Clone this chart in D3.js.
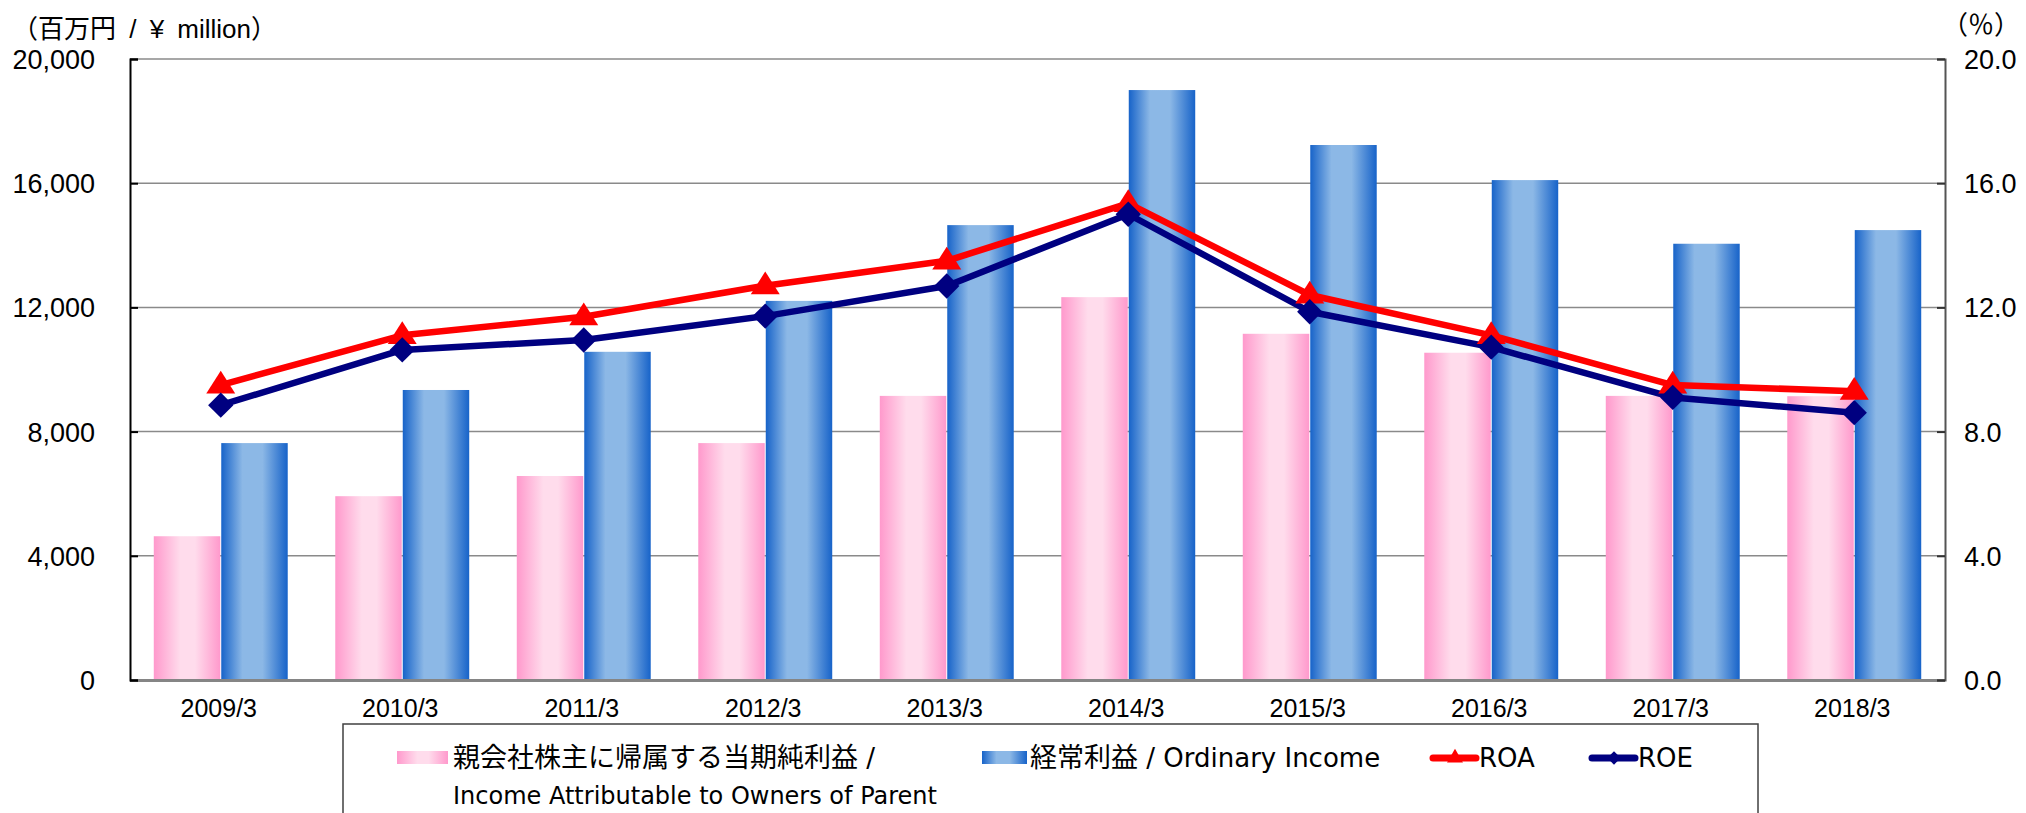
<!DOCTYPE html>
<html>
<head>
<meta charset="utf-8">
<script src="https://cdn.jsdelivr.net/npm/d3@7"></script>
<style>
  body { margin: 0; background: #fff; }
  svg { display: block; }
  .tick-label { font-family: "Liberation Sans", Arial, sans-serif; font-size: 27px; fill: #000; }
  .x-label { font-family: "Liberation Sans", Arial, sans-serif; font-size: 25px; fill: #000; }
  .unit { font-family: "Liberation Sans", "Noto Sans CJK JP", sans-serif; font-size: 26px; fill: #000; word-spacing: 6px; }
  .legend-text { font-family: "DejaVu Sans", "Noto Sans CJK JP", sans-serif; font-size: 24px; fill: #000; }
  .row1 { font-size: 26px; }
  .jp { font-family: "Noto Sans CJK JP", sans-serif; font-size: 27px; }
</style>
</head>
<body>
<svg id="chart" width="2026" height="813"></svg>
<script>
// data
const categories = ["2009/3", "2010/3", "2011/3", "2012/3", "2013/3", "2014/3", "2015/3", "2016/3", "2017/3", "2018/3"];
const netIncome = [4630, 5920, 6570, 7630, 9150, 12330, 11150, 10540, 9150, 9140];
const ordinaryIncome = [7630, 9340, 10570, 12210, 14650, 19000, 17230, 16100, 14050, 14490];
const roa = [9.5, 11.1, 11.7, 12.7, 13.5, 15.35, 12.4, 11.1, 9.5, 9.3];
const roe = [8.85, 10.63, 10.95, 11.72, 12.69, 15.0, 11.86, 10.72, 9.1, 8.61];
const leftTicks = [0, 4000, 8000, 12000, 16000, 20000];
const rightTicks = [0, 4, 8, 12, 16, 20];

let plotLeft = 130, plotRight = 1945, plotTop = 59, plotBottom = 680;

let svg = d3.select("#chart");

let x = d3.scaleBand()
  .domain(categories)
  .range([plotLeft, plotRight])
  .paddingInner(0.262)
  .paddingOuter(0.131);

let xInner = d3.scaleBand()
  .domain(["net", "ord"])
  .range([0, x.bandwidth()])
  .paddingInner(0.015);

let y = d3.scaleLinear().domain([0, 20000]).range([plotBottom, plotTop]);
let yR = d3.scaleLinear().domain([0, 20]).range([plotBottom, plotTop]);

let center = c => x(c) + x.bandwidth() / 2;

// gradients
let defs = svg.append("defs");
function grad(id, stops) {
  let g = defs.append("linearGradient").attr("id", id)
    .attr("x1", "0%").attr("x2", "100%").attr("y1", "0%").attr("y2", "0%");
  stops.forEach(s => g.append("stop").attr("offset", s[0]).attr("stop-color", s[1]));
}
grad("pinkGrad", [["0%", "#ff99cc"], ["40%", "#ffdcec"], ["62%", "#ffdcec"], ["100%", "#ff99cc"]]);
grad("blueGrad", [["0%", "#1763c9"], ["32%", "#8cb8e6"], ["62%", "#8cb8e6"], ["100%", "#1763c9"]]);

// gridlines
svg.append("g")
  .selectAll("line")
  .data(leftTicks.filter(d => d > 0))
  .enter()
  .append("line")
  .attr("x1", plotLeft).attr("x2", plotRight)
  .attr("y1", d => y(d)).attr("y2", d => y(d))
  .attr("stroke", "#8a8a8a")
  .attr("stroke-width", 1.5);

// bars
let barData = [];
categories.forEach((c, i) => {
  barData.push({ cat: c, key: "net", value: netIncome[i] });
  barData.push({ cat: c, key: "ord", value: ordinaryIncome[i] });
});

svg.append("g")
  .selectAll("rect")
  .data(barData)
  .enter()
  .append("rect")
  .attr("x", d => x(d.cat) + xInner(d.key))
  .attr("width", xInner.bandwidth())
  .attr("y", d => y(d.value))
  .attr("height", d => y(0) - y(d.value))
  .attr("fill", d => d.key == "net" ? "url(#pinkGrad)" : "url(#blueGrad)");

// axes lines
svg.append("line")
  .attr("x1", plotLeft).attr("x2", plotRight)
  .attr("y1", plotBottom + 0.5).attr("y2", plotBottom + 0.5)
  .attr("stroke", "#858585").attr("stroke-width", 3);

let yAxisL = d3.axisLeft(y).tickValues(leftTicks).tickSize(-8).tickFormat(d3.format(","));
let gL = svg.append("g").attr("transform", `translate(${plotLeft},0)`).call(yAxisL);
gL.select(".domain").attr("stroke", "#000").attr("stroke-width", 2);
gL.selectAll(".tick line").attr("stroke", "#000").attr("stroke-width", 2);
gL.selectAll(".tick text")
  .attr("class", "tick-label")
  .attr("x", -35)
  .attr("dy", "0.35em");
gL.attr("font-family", null).attr("font-size", null);

let yAxisR = d3.axisRight(yR).tickValues(rightTicks).tickSize(-8).tickFormat(d3.format(".1f"));
let gR = svg.append("g").attr("transform", `translate(${plotRight},0)`).call(yAxisR);
gR.select(".domain").attr("stroke", "#555").attr("stroke-width", 2);
gR.selectAll(".tick line").attr("stroke", "#333").attr("stroke-width", 2);
gR.selectAll(".tick text")
  .attr("class", "tick-label")
  .attr("x", 19)
  .attr("dy", "0.35em");
gR.attr("font-family", null).attr("font-size", null);

// x labels
svg.append("g")
  .selectAll("text")
  .data(categories)
  .enter()
  .append("text")
  .attr("class", "x-label")
  .attr("x", d => center(d) - 2)
  .attr("y", 717)
  .attr("text-anchor", "middle")
  .text(d => d);

// lines
let line = d3.line()
  .x(d => center(d.cat))
  .y(d => yR(d.v));

let roaPts = categories.map((c, i) => ({ cat: c, v: roa[i] }));
let roePts = categories.map((c, i) => ({ cat: c, v: roe[i] }));

svg.append("path")
  .datum(roaPts)
  .attr("d", line)
  .attr("fill", "none")
  .attr("stroke", "#ff0000")
  .attr("stroke-width", 6.5)
  .attr("stroke-linejoin", "round");

svg.append("path")
  .datum(roePts)
  .attr("d", line)
  .attr("fill", "none")
  .attr("stroke", "#000080")
  .attr("stroke-width", 6.5)
  .attr("stroke-linejoin", "round");

let tri = d3.symbol().type(d3.symbolTriangle).size(300);
let dia = d3.symbol().type(d3.symbolSquare).size(320);

svg.append("g")
  .selectAll("path")
  .data(roaPts)
  .enter()
  .append("path")
  .attr("d", tri)
  .attr("transform", d => `translate(${center(d.cat)},${yR(d.v) + 1}) scale(1.1,1)`)
  .attr("fill", "#ff0000");

svg.append("g")
  .selectAll("path")
  .data(roePts)
  .enter()
  .append("path")
  .attr("d", dia)
  .attr("transform", d => `translate(${center(d.cat)},${yR(d.v)}) rotate(45)`)
  .attr("fill", "#000080");

// unit titles
svg.append("text")
  .attr("class", "unit")
  .attr("x", 12).attr("y", 38)
  .text("（百万円 / ¥ million）");

svg.append("text")
  .attr("class", "unit")
  .attr("x", 1942).attr("y", 34)
  .text("（％）");

// legend
let legend = svg.append("g");
legend.append("rect")
  .attr("x", 343).attr("y", 724)
  .attr("width", 1415).attr("height", 120)
  .attr("fill", "none")
  .attr("stroke", "#404040")
  .attr("stroke-width", 1.5);

legend.append("rect")
  .attr("x", 397).attr("y", 751)
  .attr("width", 51).attr("height", 13)
  .attr("fill", "url(#pinkGrad)");

let t1 = legend.append("text").attr("class", "legend-text row1").attr("x", 453).attr("y", 767);
t1.append("tspan").attr("class", "jp").text("親会社株主に帰属する当期純利益");
t1.append("tspan").text(" /");
legend.append("text").attr("class", "legend-text")
  .attr("x", 453).attr("y", 804)
  .text("Income Attributable to Owners of Parent");

legend.append("rect")
  .attr("x", 982).attr("y", 751)
  .attr("width", 45).attr("height", 13)
  .attr("fill", "url(#blueGrad)");

let t2 = legend.append("text").attr("class", "legend-text row1").attr("x", 1030).attr("y", 767);
t2.append("tspan").attr("class", "jp").text("経常利益");
t2.append("tspan").text(" / Ordinary Income");

let legendLines = [
  { name: "ROA", color: "#ff0000", sym: d3.symbol().type(d3.symbolTriangle).size(110), rot: 0, x: 1429 },
  { name: "ROE", color: "#000080", sym: d3.symbol().type(d3.symbolSquare).size(90), rot: 45, x: 1588 }
];

legendLines.forEach(l => {
  legend.append("line")
    .attr("x1", l.x + 4).attr("x2", l.x + 47)
    .attr("y1", 758).attr("y2", 758)
    .attr("stroke", l.color)
    .attr("stroke-width", 7)
    .attr("stroke-linecap", "round");
  legend.append("path")
    .attr("d", l.sym)
    .attr("transform", `translate(${l.x + 26},758) rotate(${l.rot})`)
    .attr("fill", l.color);
  legend.append("text")
    .attr("class", "legend-text row1")
    .attr("x", l.x + 50).attr("y", 767)
    .text(l.name);
});
</script>
</body>
</html>
